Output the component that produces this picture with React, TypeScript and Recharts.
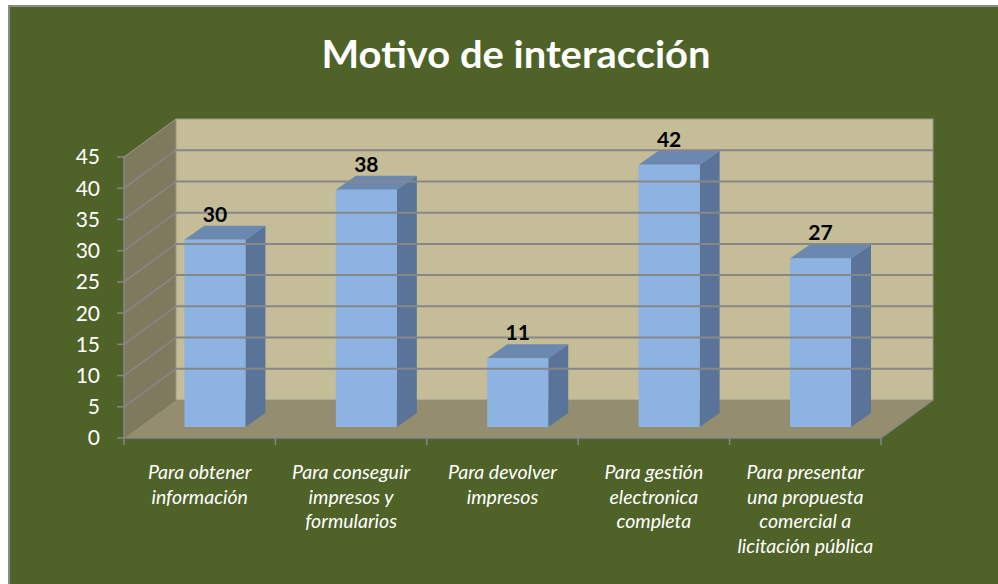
import React from 'react';
import { BarChart, Bar, XAxis, YAxis, ReferenceArea, ReferenceLine, LabelList, Customized } from 'recharts';

const TITLE = 'Motivo de interacción';
const CATEGORIES = [
  'Para obtener\ninformación',
  'Para conseguir\nimpresos y\nformularios',
  'Para devolver\nimpresos',
  'Para gestión\nelectronica\ncompleta',
  'Para presentar\nuna propuesta\ncomercial a\nlicitación pública',
];
const VALUES = [30, 38, 11, 42, 27];
const Y_TICKS = [0, 5, 10, 15, 20, 25, 30, 35, 40, 45];
const GRID_VALUES = [5, 10, 15, 20, 25, 30, 35, 40];

const data = CATEGORIES.map((name, i) => ({ name, value: VALUES[i] }));

// 3D box depth (front plane -> back wall)
const DX = 52;
const DY = -38;
// bar front face offset inside the box, and bar depth
const BAR_OFF_X = 15;
const BAR_OFF_Y = -11;
const BAR_DX = 20;
const BAR_DY = -14;

const GRID = '#878787';
const FONT = 'Lato, "Open Sans", sans-serif';

const Walls = (p: any) => {
  const { x, y, width, height } = p;
  const b = y + height;
  const r = x + width;
  return (
    <g>
      <polygon points={`${x},${y} ${x + DX},${y + DY} ${x + DX},${b + DY} ${x},${b}`} fill="#7f7a5e" />
      <rect x={x + DX} y={y + DY} width={width} height={height} fill="#c4bd97" stroke="#9a9a8a" strokeWidth={1} />
      <polygon points={`${x},${b} ${r},${b} ${r + DX},${b + DY} ${x + DX},${b + DY}`} fill="#948d70" />
      <line x1={x} y1={y} x2={x + DX} y2={y + DY} stroke="#9a9a8a" strokeWidth={1} />
      <line x1={r} y1={b} x2={r + DX} y2={b + DY} stroke={GRID} strokeWidth={1.5} />
    </g>
  );
};

const GridLine3D = (p: any) => {
  const { x1, y1, x2 } = p;
  return (
    <g>
      <line x1={x1} y1={y1} x2={x1 + DX} y2={y1 + DY} stroke={GRID} strokeWidth={1.5} />
      <line x1={x1 + DX} y1={y1 + DY} x2={x2 + DX} y2={y1 + DY} stroke={GRID} strokeWidth={2} />
    </g>
  );
};

const Bar3D = (p: any) => {
  const { x, y, width, height } = p;
  const fx = x + BAR_OFF_X;
  const fy = y + BAR_OFF_Y;
  const fb = fy + height;
  const r = fx + width;
  return (
    <g>
      <polygon points={`${r},${fy} ${r + BAR_DX},${fy + BAR_DY} ${r + BAR_DX},${fb + BAR_DY} ${r},${fb}`} fill="#5a7399" />
      <polygon points={`${fx},${fy} ${fx + BAR_DX},${fy + BAR_DY} ${r + BAR_DX},${fy + BAR_DY} ${r},${fy}`} fill="#6b89b0" />
      <rect x={fx} y={fy} width={width} height={height} fill="#8db3e2" />
    </g>
  );
};

const ValueLabel = (p: any) => {
  const { x, y, width, value } = p;
  return (
    <text x={x + width / 2 + BAR_OFF_X} y={y + BAR_OFF_Y - 18} textAnchor="middle"
      fontFamily={FONT} fontWeight={700} fontSize={21} fill="#000">
      {value}
    </text>
  );
};

const XTick = (p: any) => {
  const { x, y, payload, index, visibleTicksCount, width } = p;
  const n = visibleTicksCount || CATEGORIES.length;
  const band = typeof width === 'number' && width > 0 ? width / n : 151.4;
  const lines = String(payload.value).split('\n');
  return (
    <g>
      <line x1={x - band / 2} y1={y} x2={x - band / 2} y2={y + 7} stroke={GRID} strokeWidth={1.5} />
      {index === n - 1 && (
        <line x1={x + band / 2} y1={y} x2={x + band / 2} y2={y + 7} stroke={GRID} strokeWidth={1.5} />
      )}
      {lines.map((l, i) => (
        <text key={i} x={x} y={y + 41 + i * 24.5} textAnchor="middle" fontFamily={FONT}
          fontStyle="italic" fontSize={19.5} fill="#ffffff">
          {l}
        </text>
      ))}
    </g>
  );
};

const Title = () => (
  <text x={516} y={68} textAnchor="middle" textLength={389} lengthAdjust="spacingAndGlyphs"
    fontFamily={FONT} fontWeight={700} fontSize={38} fill="#ffffff">
    {TITLE}
  </text>
);

export default function App() {
  return (
    <div style={{ position: 'absolute', left: 0, top: 0, width: 998, height: 584, background: '#ffffff', overflow: 'hidden' }}>
      <div style={{ position: 'absolute', left: 8, top: 5, right: 0, bottom: 0, background: '#4f6228', borderLeft: '2px solid #8a8a8a', borderTop: '2px solid #8a8a8a' }} />
      <div style={{ position: 'absolute', left: 0, top: 0 }}>
        <BarChart width={998} height={584} data={data} margin={{ top: 157, right: 117, bottom: 26, left: 64 }}
          barCategoryGap="30%">
          <ReferenceArea y1={0} y2={45} shape={<Walls />} ifOverflow="visible" />
          {GRID_VALUES.map((v) => (
            <ReferenceLine key={v} y={v} shape={(pp: any) => <GridLine3D {...pp} />} ifOverflow="visible" />
          ))}
          <XAxis dataKey="name" interval={0} height={120} tickSize={0} tickMargin={0}
            axisLine={{ stroke: GRID, strokeWidth: 1.5 }} tickLine={false} tick={<XTick />} />
          <YAxis domain={[0, 45]} ticks={Y_TICKS} width={60} interval={0} tickSize={7} tickMargin={17}
            axisLine={{ stroke: GRID, strokeWidth: 1.5 }} tickLine={{ stroke: GRID, strokeWidth: 1.5 }}
            tick={{ fill: '#ffffff', fontSize: 21, fontFamily: FONT }} />
          <Bar dataKey="value" shape={<Bar3D />} isAnimationActive={false}>
            <LabelList dataKey="value" content={<ValueLabel />} />
          </Bar>
          <Customized component={<Title />} />
        </BarChart>
      </div>
    </div>
  );
}
